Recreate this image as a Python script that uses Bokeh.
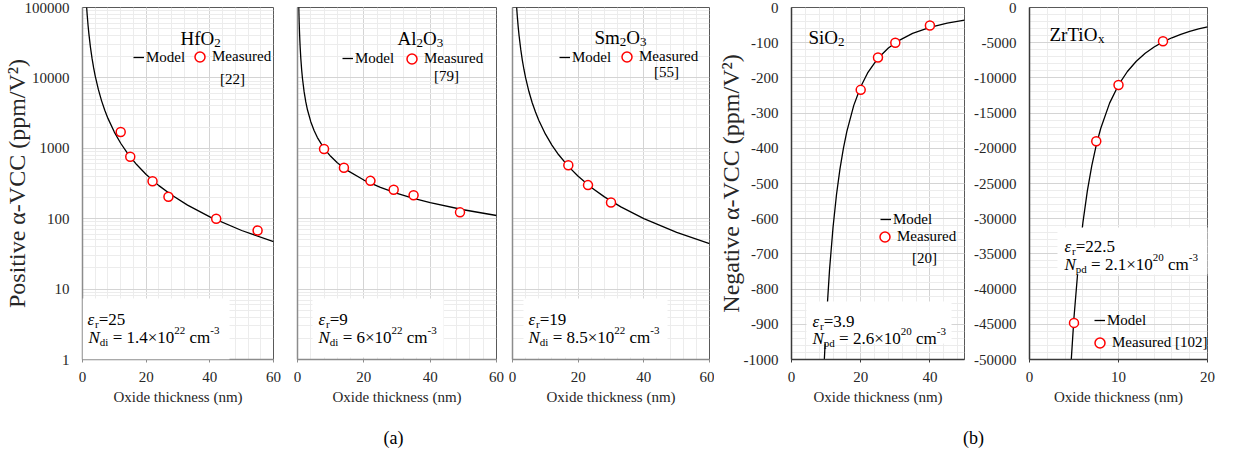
from bokeh.plotting import figure
from bokeh.models import (Range1d, FixedTicker, SingleIntervalTicker, NumeralTickFormatter,
                          Legend, LegendItem, Label, BoxAnnotation)
from bokeh.layouts import row, column
from bokeh.embed import file_html
from bokeh.resources import INLINE

FONT = '"Liberation Serif"'

# ---------------- data ----------------
# (a) positive alpha-VCC, log scale
hfo2_meas_t = [12, 15, 22, 27, 42, 55]
hfo2_meas_a = [1700, 760, 340, 205, 100, 68]
hfo2_model_t = [1.3, 1.5, 1.75, 2, 2.5, 3, 3.5, 4, 5, 6, 7, 8, 10, 12, 14, 17, 20, 24, 28, 33, 40, 50, 60]
hfo2_model_a = [100600, 75600, 55500, 42500, 27200, 18900, 13880, 10630, 6800, 4720, 3470, 2660,
                1700, 1180, 867, 588, 425, 295, 217, 156, 106, 68, 47.2]

al2o3_meas_t = [8, 14, 22, 29, 35, 49]
al2o3_meas_a = [980, 530, 345, 258, 215, 123]
al2o3_model_t = [0.38, 0.45, 0.5, 0.6, 0.7, 0.8, 1.0, 1.25, 1.5, 2, 2.5, 3, 4, 5, 6, 8, 10, 12, 15,
                 20, 25, 30, 35, 40, 50, 60]
al2o3_model_a = [102600, 75420, 62384, 45115, 34463, 27395, 18823, 13079, 9800, 6319, 4561, 3525,
                 2387, 1786, 1420, 1000, 769, 624, 485, 354, 278, 229, 194, 169, 134, 111]

sm2o3_meas_t = [17, 23, 30]
sm2o3_meas_a = [575, 300, 170]
sm2o3_model_t = [1.26, 1.5, 1.75, 2, 2.5, 3, 3.5, 4, 5, 6, 7, 8, 10, 12, 14, 17, 20, 24, 28, 33, 40, 50, 60]
sm2o3_model_a = [100800, 71100, 52240, 40000, 25600, 17780, 13060, 10000, 6400, 4440, 3270, 2500,
                 1600, 1110, 816, 554, 400, 278, 204, 147, 100, 64, 44.4]

# (b) negative alpha-VCC, linear scale
sio2_meas_t = [20, 25, 30, 40]
sio2_meas_a = [-234, -142, -100, -51]
sio2_model_t = [9.45, 10, 11, 12, 13, 14, 15, 16, 18, 20, 22, 25, 28, 31, 35, 40, 45, 50]
sio2_model_a = [-1008, -900, -744, -625, -532, -459, -400, -352, -278, -225, -186, -144, -115,
                -94, -73.5, -56.3, -44.4, -36]

zrtio_meas_t = [5, 7.5, 10, 15]
zrtio_meas_a = [-44800, -19000, -11000, -4800]
zrtio_model_t = [4.65, 5, 5.5, 6, 6.5, 7, 7.5, 8, 9, 10, 11, 12, 13, 14, 15, 16, 17, 18, 19, 20]
zrtio_model_a = [-50870, -44000, -36360, -30560, -26040, -22450, -19560, -17190, -13580, -11000,
                 -9090, -7640, -6510, -5610, -4890, -4300, -3810, -3400, -3050, -2750]

log_ticks = [1, 10, 100, 1000, 10000, 100000]

# ---------------- helpers ----------------
WID = {' ': 250, '(': 333, ')': 333, '[': 333, ']': 333, '.': 250, '=': 564, '×': 564, '-': 333,
       'A': 722, 'H': 722, 'M': 889, 'N': 722, 'O': 722, 'S': 556, 'T': 611, 'Z': 611,
       'a': 444, 'c': 444, 'd': 500, 'e': 444, 'f': 333, 'i': 278, 'l': 278, 'm': 778, 'o': 500,
       'p': 500, 'r': 333, 's': 389, 'x': 500, 'u': 500, 'ε': 440}
ITAL = {'N': 667, 'ε': 440}


def tw(s, size, ital=False):
    tot = 0
    for c in s:
        tot += (ITAL.get(c) if ital and c in ITAL else WID.get(c, 500))
    return tot * size / 1000.0


def rich(p, fl, fb, x, y, parts):
    cx = x
    for txt, size, dy, ital in parts:
        lead = len(txt) - len(txt.lstrip(" "))
        cx += lead * WID[' '] * size / 1000.0
        core = txt.strip(" ")
        p.add_layout(Label(x=cx - fl, y=fb - y + dy, x_units="screen", y_units="screen",
                           text=core, text_font=FONT, text_font_size=f"{size}px",
                           text_font_style="italic" if ital else "normal",
                           text_baseline="alphabetic", text_align="left", text_color="black"))
        cx += tw(core, size, ital)
        trail = len(txt) - len(txt.rstrip(" "))
        cx += trail * WID[' '] * size / 1000.0


def make_fig(width, bl, br, bb, x_end, x_int, y_rng, log, y_int=None, axis_col="#8c8c8c",
             ylabel=None, show_ylabels=True, als=-6):
    p = figure(width=width, height=415, output_backend="svg", toolbar_location=None, tools="",
               x_range=Range1d(0, x_end), y_range=Range1d(*y_rng),
               y_axis_type="log" if log else "linear",
               min_border_left=bl, min_border_right=br, min_border_top=7, min_border_bottom=bb)
    p.background_fill_color = "white"
    p.border_fill_color = "white"
    p.outline_line_color = "#595959"
    p.outline_line_width = 1
    xt = SingleIntervalTicker(interval=x_int, num_minor_ticks=5)
    p.xaxis.ticker = xt
    p.xgrid.ticker = xt
    if log:
        minor = [m * 10 ** k for k in range(0, 5) for m in range(2, 10)]
        yt = FixedTicker(ticks=log_ticks, minor_ticks=minor)
    else:
        yt = SingleIntervalTicker(interval=y_int, num_minor_ticks=5)
    p.ygrid.ticker = yt
    p.yaxis.ticker = yt if show_ylabels else FixedTicker(ticks=[])
    for g in (p.xgrid, p.ygrid):
        g.grid_line_color = "#d4d4d4"
        g.grid_line_width = 1
        g.minor_grid_line_color = "#ececec"
        g.minor_grid_line_width = 1
    for ax in (p.xaxis[0], p.yaxis[0]):
        ax.axis_line_color = axis_col
        ax.axis_line_width = 1.5
        ax.minor_tick_line_color = None
        ax.minor_tick_out = 0
        ax.minor_tick_in = 0
        ax.major_tick_in = 0
        ax.major_label_text_font = FONT
        ax.major_label_text_font_size = "15px"
        ax.major_label_text_color = "#262626"
        ax.formatter = NumeralTickFormatter(format="0")
        ax.axis_label_text_font = FONT
        ax.axis_label_text_font_style = "normal"
        ax.axis_label_text_color = "#262626"
    xa = p.xaxis[0]
    xa.major_tick_line_color = axis_col
    xa.major_tick_out = 3
    xa.major_label_standoff = 9
    xa.axis_label = "Oxide thickness (nm)"
    xa.axis_label_text_font_size = "15px"
    xa.axis_label_standoff = 4
    ya = p.yaxis[0]
    ya.major_tick_line_color = None
    ya.major_tick_out = 0
    ya.major_label_standoff = 13 if show_ylabels else 0
    if ylabel:
        ya.axis_label = ylabel
        ya.axis_label_text_font_size = "24px"
        ya.axis_label_standoff = als
    return p


def add_series(p, mt, ma, st, sa):
    ln = p.line(mt, ma, line_color="black", line_width=1.3)
    sc = p.scatter(st, sa, marker="circle", size=9, line_color="#ff0000", line_width=1.5,
                   fill_color="white")
    return ln, sc


def add_legends(p, ln, sc, loc_model, loc_meas, meas_label="Measured"):
    common = dict(padding=0, margin=0, border_line_color=None, background_fill_alpha=0,
                  label_text_font=FONT, label_text_font_size="15px", label_text_color="black",
                  label_height=18)
    lg1 = Legend(items=[LegendItem(label="Model", renderers=[ln])], location=loc_model,
                 glyph_width=11, glyph_height=18, label_standoff=2, **common)
    lg2 = Legend(items=[LegendItem(label=meas_label, renderers=[sc])], location=loc_meas,
                 glyph_width=25, glyph_height=25, label_standoff=-5, **common)
    p.add_layout(lg1)
    p.add_layout(lg2)


def ref_label(p, x, y, txt):
    p.add_layout(Label(x=x, y=y, x_units="screen", y_units="screen", text=txt, text_font=FONT,
                       text_font_size="15px", text_align="center", text_baseline="middle",
                       text_color="black"))


def box(p, l, r, t, b):
    p.add_layout(BoxAnnotation(left=l, right=r, top=t, bottom=b, left_units="screen",
                               right_units="screen", top_units="screen", bottom_units="screen",
                               fill_color="white", fill_alpha=1, line_color=None))


# ---------------- panel 1: HfO2 ----------------
p1 = make_fig(285, 78, 12, 56, 60, 20, (1, 100000), True,
              ylabel="Positive α-VCC (ppm/V²)", als=-8)
l, s = add_series(p1, hfo2_model_t, hfo2_model_a, hfo2_meas_t, hfo2_meas_a)
FL, FB = 78, 359
add_legends(p1, l, s, (51, 293), (105, 290))
ref_label(p1, 150, 281, "[22]")
rich(p1, FL, FB, 176, 38, [("HfO", 19, 0, False), ("2", 13, -4, False)])
box(p1, 0, 147, 61, 0)
rich(p1, FL, FB, 83, 319, [("ε", 17, 0, True), ("r", 11, -4, False), ("=25", 17, 0, False)])
rich(p1, FL, FB, 84, 337, [("N", 17, 0, True), ("di", 11, -4, False), (" = 1.4×10", 17, 0, False),
                            ("22", 11, 7, False), (" cm", 17, 0, False), ("-3", 11, 7, False)])

# ---------------- panel 2: Al2O3 ----------------
p2 = make_fig(219, 12, 8, 56, 60, 20, (1, 100000), True, show_ylabels=False)
l, s = add_series(p2, al2o3_model_t, al2o3_model_a, al2o3_meas_t, al2o3_meas_a)
FL, FB = 297, 359
add_legends(p2, l, s, (45, 292), (102, 288))
ref_label(p2, 149, 284, "[79]")
rich(p2, FL, FB, 397, 38, [("Al", 19, 0, False), ("2", 13, -4, False), ("O", 19, 0, False),
                            ("3", 13, -4, False)])
box(p2, 15, 146, 61, 2)
rich(p2, FL, FB, 318, 319, [("ε", 17, 0, True), ("r", 11, -4, False), ("=9", 17, 0, False)])
rich(p2, FL, FB, 318, 337, [("N", 17, 0, True), ("di", 11, -4, False), (" = 6×10", 17, 0, False),
                             ("22", 11, 7, False), (" cm", 17, 0, False), ("-3", 11, 7, False)])

# ---------------- panel 3: Sm2O3 ----------------
p3 = make_fig(210, 8, 5, 56, 60, 20, (1, 100000), True, show_ylabels=False)
l, s = add_series(p3, sm2o3_model_t, sm2o3_model_a, sm2o3_meas_t, sm2o3_meas_a)
FL, FB = 512, 359
add_legends(p3, l, s, (47, 293), (102, 290))
ref_label(p3, 154, 288, "[55]")
rich(p3, FL, FB, 594, 37, [("Sm", 19, 0, False), ("2", 13, -4, False), ("O", 19, 0, False),
                            ("3", 13, -4, False)])
box(p3, 11, 155, 61, 2)
rich(p3, FL, FB, 528, 319, [("ε", 17, 0, True), ("r", 11, -4, False), ("=19", 17, 0, False)])
rich(p3, FL, FB, 528, 337, [("N", 17, 0, True), ("di", 11, -4, False), (" = 8.5×10", 17, 0, False),
                             ("22", 11, 7, False), (" cm", 17, 0, False), ("-3", 11, 7, False)])

# ---------------- panel 4: SiO2 ----------------
p4 = make_fig(255, 76, 5, 56, 50, 20, (-1000, 0), False, y_int=100, axis_col="#3a3a3a",
              ylabel="Negative α-VCC (ppm/V²)", als=-3)
l, s = add_series(p4, sio2_model_t, sio2_model_a, sio2_meas_t, sio2_meas_a)
FL, FB = 790, 359
add_legends(p4, l, s, (89, 131), (81, 110))
ref_label(p4, 133, 102, "[20]")
rich(p4, FL, FB, 807, 37, [("SiO", 19, 0, False), ("2", 13, -4, False)])
box(p4, 15, 160, 58, 16)
rich(p4, FL, FB, 811, 321, [("ε", 17, 0, True), ("r", 11, -4, False), ("=3.9", 17, 0, False)])
rich(p4, FL, FB, 811, 338, [("N", 17, 0, True), ("pd", 11, -4, False), (" = 2.6×10", 17, 0, False),
                             ("20", 11, 7, False), (" cm", 17, 0, False), ("-3", 11, 7, False)])

# ---------------- panel 5: ZrTiOx ----------------
p5 = make_fig(267, 60, 29, 53, 20, 10, (-50000, 0), False, y_int=5000, axis_col="#3a3a3a")
l, s = add_series(p5, zrtio_model_t, zrtio_model_a, zrtio_meas_t, zrtio_meas_a)
FL, FB = 1029, 362
add_legends(p5, l, s, (65, 30), (58, 4), meas_label="Measured [102]")
rich(p5, FL, FB, 1049, 37, [("ZrTiO", 19, 0, False), ("x", 13, -4, False)])
box(p5, 28, 188, 132, 85)
rich(p5, FL, FB, 1064, 249, [("ε", 17, 0, True), ("r", 11, -4, False), ("=22.5", 17, 0, False)])
rich(p5, FL, FB, 1064, 267, [("N", 17, 0, True), ("pd", 11, -4, False), (" = 2.1×10", 17, 0, False),
                              ("20", 11, 7, False), (" cm", 17, 0, False), ("-3", 11, 7, False)])

# ---------------- (a) / (b) strip ----------------
strip = figure(width=1236, height=39, output_backend="svg", toolbar_location=None, tools="",
               x_range=Range1d(0, 1236), y_range=Range1d(0, 39),
               x_axis_location=None, y_axis_location=None, min_border=0)
strip.grid.visible = False
strip.outline_line_color = None
strip.background_fill_color = "white"
strip.border_fill_color = "white"
for txt, x in (("(a)", 393), ("(b)", 973)):
    strip.add_layout(Label(x=x, y=17, x_units="screen", y_units="screen", text=txt, text_font=FONT,
                           text_font_size="18px", text_align="center", text_baseline="middle",
                           text_color="black"))

layout = column(row(p1, p2, p3, p4, p5), strip)
open("out.html", "w").write(file_html(layout, INLINE))
